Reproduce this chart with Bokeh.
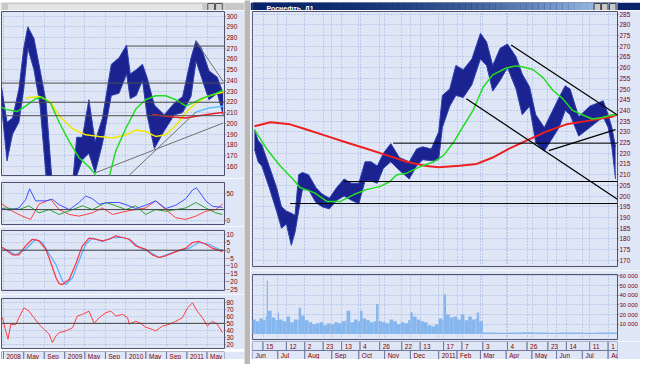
import pandas as pd
from bokeh.plotting import figure
from bokeh.layouts import row, column
from bokeh.models import Range1d, FixedTicker, Label, Span
from bokeh.embed import file_html
from bokeh.resources import INLINE

FONT = "Liberation Sans"
LBL = "#800000"
BG = "#dfe6f6"
FRAME = "#505070"
GRID = "#9db0e0"
WIN = "#b8b8b8"
NAVY = "#1a238f"

# ---------------- right window: Rosneft daily, trading-day index from 2010-06-01 ----------------
r_day = [2, 5, 8, 14, 20, 24, 28, 32, 35, 38, 41, 46, 52, 57, 63, 69, 75, 81, 87, 92,
         97, 102, 107, 113, 120, 128, 134, 139, 146, 152, 155, 161, 166, 172, 179, 186, 191, 196, 202, 208,
         215, 220, 226, 231, 238, 250, 255, 259, 266, 275, 286, 290, 293, 296]
r_hi = [231, 226, 224, 214, 204, 195, 193, 192, 191, 210, 211, 210, 204, 201, 199, 204, 208, 206, 206, 216,
        216, 214, 220, 224.5, 218, 216, 222, 223, 222, 230, 247, 250, 261, 259, 264, 276, 272, 261, 269, 271,
        265, 257, 251, 238, 232, 246, 251.5, 250, 237, 242, 244.5, 238, 232, 223]
r_lo = [222, 216, 214, 204, 193, 185, 187, 177, 183, 193, 203, 203, 197, 195, 194, 198, 200, 198, 196.5, 207,
        207, 206, 213, 216, 212, 208, 214, 217, 216.5, 217, 232, 242, 247, 246, 252, 264, 261, 249, 254, 260,
        250, 238, 242, 225, 221, 232, 240, 238, 228, 232, 237, 232, 223, 208]
r_last = 208.45

rg_day = [2, 12, 23, 34, 39, 51, 61, 72, 83, 93, 104, 112, 118, 126, 136, 148, 156, 164, 172, 180,
          188, 196, 207, 215, 221, 229, 237, 245, 253, 261, 269, 277, 285, 293, 297]
rg_val = [231, 222, 214, 207.5, 204, 201.5, 197.5, 197.5, 200.7, 203, 204.4, 206.7, 210, 210.7, 213.5, 216,
          219, 225, 232.6, 240, 250.7, 256.6, 259.8, 260.8, 260.3, 259, 255.3, 249.4, 245.5, 240, 238, 236,
          236.7, 238, 238]
rr_day = [2, 15, 31, 45, 61, 77, 94, 110, 126, 142, 152, 169, 183, 196, 209, 223, 239, 256, 272, 282, 293, 297]
rr_val = [232.6, 234.5, 233.5, 231, 228, 225, 222, 219, 216, 214, 213.5, 214.2, 215, 218, 222, 225.8, 230,
          233.5, 235, 236, 237, 238]

r_hline_from = [115, 75, 31]
r_hline_val = [224.7, 206.8, 196.5]
r_tl_x0 = [211, 174.5, 241.7]
r_tl_y0 = [270.6, 245.5, 221.2]
r_tl_x1 = [297.5, 297.5, 296]
r_tl_y1 = [237.9, 198.5, 231]

vol_day = [0, 3, 6, 9, 11, 12, 13, 16, 19, 21, 22, 25, 28, 31, 34, 37, 38, 40, 43, 46,
           49, 52, 55, 58, 61, 64, 67, 70, 73, 76, 77, 80, 83, 86, 88, 90, 93, 96, 99, 101,
           103, 106, 109, 112, 115, 118, 121, 124, 127, 129, 131, 134, 137, 140, 143, 146, 149, 152, 155, 156,
           158, 161, 164, 167, 170, 173, 176, 179, 182, 183, 185, 188, 200, 210, 220, 230, 240, 250, 260, 270,
           280, 290]
vol_k = [15, 13, 16, 14, 18, 55, 24, 17, 14, 22, 15, 13, 18, 12, 15, 14, 27, 19, 14, 12,
         10, 11, 12, 9, 11, 10, 12, 11, 13, 14, 24, 12, 15, 13, 24, 16, 14, 12, 13, 31,
         13, 12, 11, 15, 13, 10, 12, 11, 14, 22, 18, 15, 13, 12, 9, 8, 10, 16, 14, 41,
         20, 17, 18, 15, 20, 14, 18, 15, 16, 22, 13, 1.4, 1.3, 1.5, 1.8, 1.4, 1.3, 1.4, 1.5, 1.3,
         1.4, 1.5]
vol_last = "1 763"

r_day_ticks = ["2010-06-15", "2010-07-12", "2010-08-02", "2010-08-23", "2010-09-13", "2010-10-04",
               "2010-10-26", "2010-11-22", "2010-12-13", "2011-01-17", "2011-02-07", "2011-03-03",
               "2011-04-04", "2011-04-26", "2011-05-23", "2011-06-14", "2011-07-11", "2011-08-01"]
r_day_labels = ["15", "12", "2", "23", "13", "4", "26", "22", "13", "17", "7", "3", "4", "26", "23", "14", "11", "1"]
r_month_ticks = ["2010-06-01", "2010-07-01", "2010-08-02", "2010-09-01", "2010-10-01", "2010-11-01",
                 "2010-12-01", "2011-01-11", "2011-02-01", "2011-03-01", "2011-04-01", "2011-05-03",
                 "2011-06-01", "2011-07-01", "2011-08-01"]
r_month_labels = ["Jun", "Jul", "Aug", "Sep", "Oct", "Nov", "Dec", "2011", "Feb", "Mar", "Apr", "May",
                  "Jun", "Jul", "Aug"]
r_yticks = list(range(170, 290, 5))
vol_ticks = [10, 20, 30, 40, 50, 60]
vol_tick_labels = ["10 000", "20 000", "30 000", "40 000", "50 000", "60 000"]

holidays = ["2010-06-14", "2010-11-04", "2011-01-03", "2011-01-04", "2011-01-05", "2011-01-06",
            "2011-01-07", "2011-01-10", "2011-02-23", "2011-03-07", "2011-03-08", "2011-05-02",
            "2011-05-09", "2011-06-13"]

# ---------------- left window: long history ----------------
l_date = ["2007-11-16", "2007-12-16", "2008-01-22", "2008-02-24", "2008-04-02", "2008-05-01", "2008-05-25",
          "2008-07-01", "2008-08-06", "2008-09-11", "2008-10-15", "2008-11-20", "2008-12-20", "2009-01-25",
          "2009-02-20", "2009-03-13", "2009-04-16", "2009-05-25", "2009-07-01", "2009-08-14", "2009-10-06",
          "2009-11-21", "2010-01-05", "2010-01-27", "2010-03-04", "2010-04-10", "2010-05-07", "2010-06-20",
          "2010-08-18", "2010-10-18", "2010-12-06", "2011-01-25", "2011-02-24", "2011-03-28", "2011-05-12",
          "2011-07-01", "2011-08-05"]
l_hi = [228, 238, 201, 205, 232, 270, 290, 279, 250, 220, 150, 130, 120, 125, 150, 187, 187, 222, 183, 205,
        255, 261, 273, 246, 250, 255, 243, 217, 208, 219, 225, 261, 277, 270, 249, 243, 228]
l_lo = [208, 223, 165, 190, 201, 232, 270, 250, 217, 151, 110, 95, 90, 95, 115, 151, 166, 172, 154, 181,
        226, 228, 246, 223, 226, 240, 208, 176.5, 193, 208, 210, 225, 258, 243, 222, 228, 208]

lg_date = ["2007-11-06", "2008-01-14", "2008-03-23", "2008-05-12", "2008-07-11", "2008-08-20", "2008-10-09",
           "2008-11-28", "2009-01-28", "2009-03-27", "2009-05-25", "2009-07-04", "2009-08-15", "2009-09-23",
           "2009-11-02", "2010-01-01", "2010-03-01", "2010-04-29", "2010-06-28", "2010-08-27", "2010-10-26",
           "2010-12-25", "2011-02-04", "2011-04-04", "2011-06-02", "2011-08-05"]
lg_val = [219, 213, 211, 216, 223, 224.5, 218.5, 201, 183, 168, 159.5, 152, 140, 150, 174.6, 195.4, 213.3,
          222, 225.7, 225.7, 222, 216, 219, 223.5, 226.5, 231]
ly_date = ["2008-05-12", "2008-08-01", "2008-10-09", "2008-11-28", "2009-02-17", "2009-05-06", "2009-07-24",
           "2009-10-13", "2010-01-01", "2010-03-01", "2010-04-29", "2010-06-28", "2010-08-27", "2010-10-26",
           "2010-12-25", "2011-02-24", "2011-04-23", "2011-06-22", "2011-08-05"]
ly_val = [223.5, 225, 220, 207, 195, 189.3, 187.8, 186.3, 189.3, 193.7, 192.3, 187.8, 189.3, 198, 210, 219,
          224.5, 227.5, 229]
lr_date = ["2010-06-09", "2010-10-06", "2010-12-25", "2011-03-14", "2011-06-02", "2011-08-05"]
lr_val = [208.2, 206, 205, 207, 209, 210]

l_hlines = [237.5, 219.6, 207.1]
l_top_from, l_top_val = "2010-01-07", 272
l_gray_x0 = ["2009-07-04", "2010-01-21", "2011-02-24"]
l_gray_y0 = [154, 151.7, 276.2]
l_gray_x1 = ["2011-08-05", "2011-02-24", "2011-08-05"]
l_gray_y1 = [200.3, 210.6, 239]
l_cyan_x = ["2011-02-24", "2011-05-12", "2011-08-05"]
l_cyan_y = [210.6, 214.3, 216]

adx_date = ["2007-11-06", "2007-12-26", "2008-02-03", "2008-04-02", "2008-05-12", "2008-06-05", "2008-07-11",
            "2008-09-10", "2008-10-19", "2008-11-28", "2009-01-28", "2009-03-27", "2009-05-06", "2009-06-15",
            "2009-07-25", "2009-09-23", "2009-11-22", "2010-01-01", "2010-03-01", "2010-04-29", "2010-06-28",
            "2010-08-27", "2010-10-26", "2010-12-25", "2011-02-03", "2011-02-27", "2011-04-23", "2011-06-02",
            "2011-08-01"]
adx_val = [25, 22, 19, 23, 38, 58, 36, 36, 39, 29, 20, 33, 45, 40, 30, 33, 33, 29, 22, 28, 36, 22, 28, 40,
           56, 60, 36, 26, 24]
dim_date = ["2007-11-06", "2007-12-26", "2008-02-23", "2008-04-22", "2008-06-11", "2008-07-31", "2008-10-09",
            "2008-11-28", "2009-01-28", "2009-03-27", "2009-06-15", "2009-08-14", "2009-10-13", "2010-01-01",
            "2010-03-01", "2010-04-29", "2010-06-28", "2010-08-27", "2010-10-26", "2010-12-25", "2011-02-23",
            "2011-04-23", "2011-06-22", "2011-08-01"]
dim_val = [14, 30, 17, 8, 2, 30, 39, 20, 11, 8, 14, 23, 11, 17, 20, 23, 36, 20, 5, 2, 8, 17, 20, 30]
dip_date = ["2007-11-06", "2008-01-14", "2008-04-02", "2008-06-01", "2008-07-31", "2008-09-30", "2008-11-28",
            "2009-02-17", "2009-04-16", "2009-06-15", "2009-09-03", "2009-11-02", "2010-01-01", "2010-03-01",
            "2010-04-29", "2010-06-28", "2010-08-27", "2010-10-26", "2010-12-25", "2011-02-23", "2011-04-23",
            "2011-06-22", "2011-08-01"]
dip_val = [20, 23, 20, 27, 14, 20, 11, 20, 27, 20, 33, 27, 20, 27, 11, 20, 17, 20, 23, 33, 23, 14, 11]

macd_date = ["2007-11-06", "2007-12-26", "2008-02-23", "2008-04-02", "2008-05-12", "2008-06-21", "2008-07-31",
             "2008-09-10", "2008-10-09", "2008-11-09", "2008-11-28", "2008-12-18", "2009-01-28", "2009-03-07",
             "2009-04-16", "2009-05-26", "2009-07-05", "2009-08-14", "2009-09-23", "2009-11-02", "2009-12-12",
             "2010-01-21", "2010-03-01", "2010-04-29", "2010-06-08", "2010-07-18", "2010-08-27", "2010-10-26",
             "2010-12-25", "2011-02-03", "2011-03-13", "2011-04-23", "2011-06-02", "2011-08-01"]
macd_val = [0, 1.7, -3, -3, 2.8, 7, 6, 0.6, -7.9, -17.5, -21.4, -22, -18.6, -9, 2.8, 7.7, 7, 6, 7, 9.2, 8.1,
            7, 2.8, 0.6, -3, -4.7, -3.6, -0.9, 1.3, 4.9, 5.6, 3.8, 1.3, -0.9]
sig_date = ["2007-11-06", "2008-01-14", "2008-03-13", "2008-05-12", "2008-07-11", "2008-08-20", "2008-09-30",
            "2008-11-09", "2008-12-18", "2009-01-08", "2009-02-17", "2009-03-27", "2009-05-06", "2009-06-15",
            "2009-08-14", "2009-10-13", "2009-12-12", "2010-01-21", "2010-03-21", "2010-05-19", "2010-07-18",
            "2010-09-16", "2010-11-15", "2011-01-14", "2011-03-13", "2011-05-12", "2011-07-11", "2011-08-01"]
sig_val = [0.6, 0.6, -3, 0.6, 7, 4.9, -2.4, -9.2, -19.6, -22, -17.5, -6.8, 3.8, 7.7, 5.6, 8.1, 8.1, 7, 1.7,
           -0.9, -4.7, -2.4, -0.3, 1.3, 4.9, 3.8, 0.6, 0]

rsi_date = ["2007-11-06", "2007-12-06", "2007-12-26", "2008-01-14", "2008-01-28", "2008-02-13", "2008-03-13",
            "2008-04-02", "2008-05-02", "2008-06-01", "2008-07-01", "2008-07-31", "2008-08-30", "2008-09-30",
            "2008-10-19", "2008-11-09", "2008-11-28", "2009-01-08", "2009-02-17", "2009-03-17", "2009-04-16",
            "2009-05-26", "2009-06-25", "2009-07-25", "2009-09-03", "2009-10-03", "2009-11-02", "2009-12-12",
            "2010-01-11", "2010-01-21", "2010-03-01", "2010-03-31", "2010-04-29", "2010-06-08", "2010-06-28",
            "2010-08-07", "2010-09-16", "2010-10-26", "2010-12-05", "2011-01-04", "2011-02-03", "2011-03-03",
            "2011-04-03", "2011-05-03", "2011-06-02", "2011-07-01", "2011-08-01"]
rsi_val = [50, 62.7, 58, 39.3, 27.5, 48.6, 48, 58, 72, 67.3, 58, 48.6, 41.5, 34.5, 22.8, 32.1, 36.8, 39.3,
           43.8, 60.4, 62.7, 67.3, 50, 58, 65, 67.3, 60.4, 62.7, 58, 49, 53, 50, 44.6, 41.5, 39.3, 46.1, 48.6,
           53, 58, 72, 79, 67.3, 58, 46.1, 53, 48.6, 36.8]

l_cell_dates = ["2008-01-01", "2008-05-01", "2008-09-01", "2009-01-01", "2009-05-01", "2009-09-01",
                "2010-01-01", "2010-05-01", "2010-09-01", "2011-01-01", "2011-05-01"]
l_cell_labels = ["2008", "May", "Sep", "2009", "May", "Sep", "2010", "May", "Sep", "2011", "May"]
l_yticks = list(range(160, 310, 10))
l_last = 208.45

TITLE_RIGHT = "Роснефть, Д1"

# ---------------- helpers ----------------
def ms(s):
    return pd.Timestamp(s).value / 1e6

def msl(lst):
    return [ms(s) for s in lst]

cal = pd.bdate_range("2010-06-01", "2011-08-31")
cal = cal[~cal.isin(pd.to_datetime(holidays))]
cal_pos = {d: i for i, d in enumerate(cal)}

def tix(lst):
    return [cal_pos[pd.Timestamp(s)] for s in lst]


def panel(w, h, xr, yr, borders, yticks=None, overrides=None, fsize="6.5px", xgrid=None):
    l, r, t, b = borders
    p = figure(width=w, height=h, x_range=xr, y_range=yr, output_backend="svg",
               toolbar_location=None, x_axis_location=None,
               y_axis_location="right" if yticks is not None else None,
               min_border_left=l, min_border_right=r, min_border_top=t, min_border_bottom=b,
               background_fill_color=BG, border_fill_color=BG, outline_line_color=FRAME)
    if yticks is not None:
        ax = p.yaxis[0]
        ax.ticker = FixedTicker(ticks=yticks)
        ax.major_label_text_font = FONT
        ax.major_label_text_font_size = fsize
        ax.major_label_text_color = LBL
        ax.axis_line_color = None
        ax.major_tick_line_color = FRAME
        ax.major_tick_out = 1
        ax.major_tick_in = 0
        ax.minor_tick_line_color = None
        ax.major_label_standoff = 1
        if overrides:
            ax.major_label_overrides = overrides
        p.ygrid.ticker = FixedTicker(ticks=yticks)
    if xgrid is not None:
        p.xgrid.ticker = FixedTicker(ticks=xgrid)
    p.grid.grid_line_color = GRID
    p.grid.grid_line_dash = "1 2"
    return p


def chrome(w, h, bg):
    p = figure(width=w, height=h, x_range=Range1d(0, 1), y_range=Range1d(0, 1),
               output_backend="svg", toolbar_location=None, x_axis_location=None,
               y_axis_location=None, min_border=0, background_fill_color=bg,
               border_fill_color=bg, outline_line_color=None)
    p.grid.visible = False
    return p


def price_label(p, x, y):
    p.add_layout(Label(x=x, y=y, text=f"{y:.2f}", x_offset=1, text_baseline="middle",
                       text_font=FONT, text_font_size="6.5px", text_color="#000080",
                       background_fill_color="white", border_line_color="#3050c0"))


def price_band(p, x, lo, hi):
    p.varea(x=x, y1=lo, y2=hi, fill_color=NAVY)
    p.line(x, hi, line_color="#3040b0", line_width=1)
    p.line(x, lo, line_color="#3040b0", line_width=1)


# ---------------- right window ----------------
RW = 390
RB = (2, 21)
rx = Range1d(0.4, 297.6)
r_day_pos = tix(r_day_ticks)
r_mon_pos = tix(r_month_ticks)
r_vgrid = sorted(set(r_day_pos + r_mon_pos))

rmain = panel(RW, 260, rx, Range1d(167.1, 286.2), (RB[0], RB[1], 1, 4), yticks=r_yticks, xgrid=r_vgrid)
price_band(rmain, r_day, r_lo, r_hi)
rmain.line(rr_day, rr_val, line_color="#ee2020", line_width=2)
rmain.line(rg_day, rg_val, line_color="#22dd22", line_width=1.5)
rmain.segment(x0=r_hline_from, y0=r_hline_val, x1=[rx.end] * len(r_hline_val), y1=r_hline_val,
              line_color="#000000", line_width=1)
rmain.segment(x0=r_tl_x0, y0=r_tl_y0, x1=r_tl_x1, y1=r_tl_y1, line_color="#000000", line_width=1.2)
price_label(rmain, rx.end, r_last)

rvol = panel(RW, 71, rx, Range1d(-5.8, 61.4), (RB[0], RB[1], 4, 2), yticks=vol_ticks,
             overrides={t: s for t, s in zip(vol_ticks, vol_tick_labels)}, fsize="6px", xgrid=r_vgrid)
vol_right = vol_day[1:] + [rx.end]
rvol.quad(left=vol_day, right=vol_right, bottom=0, top=vol_k, fill_color="#86b6ee", line_color=None)
rvol.add_layout(Label(x=rx.end, y=vol_k[-1], text=vol_last, x_offset=1, text_baseline="middle",
                      text_font=FONT, text_font_size="6px", text_color="#2050c0",
                      background_fill_color="white", border_line_color="#3060d0"))

rdates = panel(RW, 18, rx, Range1d(0, 2), (RB[0], RB[1], 0, 0))
rdates.grid.visible = False
rdates.outline_line_color = None
d_left = [rx.start] + r_day_pos
d_right = r_day_pos + [rx.end]
rdates.quad(left=d_left, right=d_right, bottom=1, top=2, fill_color=BG, line_color="#7078a0")
rdates.text(x=r_day_pos, y=[1.5] * len(r_day_pos), text=r_day_labels, x_offset=3, text_baseline="middle",
            text_font_size="6.5px", text_color=LBL, text_font={"value": FONT})
m_left = [max(v, rx.start) for v in r_mon_pos]
m_right = r_mon_pos[1:] + [rx.end]
rdates.quad(left=m_left, right=m_right, bottom=0, top=1, fill_color=BG, line_color="#7078a0")
rdates.text(x=m_left, y=[0.5] * len(m_left), text=r_month_labels, x_offset=3, text_baseline="middle",
            text_font_size="6.5px", text_color=LBL, text_font={"value": FONT})

rtitle = chrome(RW, 10, "#0a246a")
n = 60
c0 = (10, 36, 106)
c1 = (166, 202, 240)
cols = ["#%02x%02x%02x" % tuple(int(c0[k] + (c1[k] - c0[k]) * (i / (n - 1)) ** 2) for k in range(3))
        for i in range(n)]
rtitle.quad(left=[i / n for i in range(n)], right=[(i + 1) / n for i in range(n)], bottom=0, top=1,
            fill_color=cols, line_color=None)
rtitle.quad(left=[0.936, 0.956, 0.978], right=[0.954, 0.974, 0.996], bottom=0.15, top=0.9,
            fill_color="#c8c8c8", line_color="#404040")
rtitle.add_layout(Label(x=14, y=1, x_units="screen", y_units="screen", text=TITLE_RIGHT,
                        text_color="white", text_font=FONT, text_font_size="7px", text_font_style="bold"))

rscroll = chrome(RW, 5, "#cfcfcf")
rscroll.quad(left=[0.79], right=[0.985], bottom=0, top=1, fill_color="#ececec", line_color="#909090")

right_col = column(rtitle, rmain, rvol, rdates, rscroll, spacing=0)

# ---------------- left window ----------------
LW = 244
LB = (1, 20)
lx = Range1d(ms("2007-12-20"), ms("2011-08-13"))
l_cells = msl(l_cell_dates)

lmain = panel(LW, 168, lx, Range1d(151.4, 304.2), (LB[0], LB[1], 1, 3), yticks=l_yticks, xgrid=l_cells)
lx_d = msl(l_date)
price_band(lmain, lx_d, l_lo, l_hi)
for v in l_hlines:
    lmain.add_layout(Span(location=v, dimension="width", line_color="#505050", line_width=1))
lmain.segment(x0=[ms(l_top_from)], y0=[l_top_val], x1=[lx.end], y1=[l_top_val], line_color="#505050")
lmain.segment(x0=msl(l_gray_x0), y0=l_gray_y0, x1=msl(l_gray_x1), y1=l_gray_y1, line_color="#707070")
lmain.line(msl(l_cyan_x), l_cyan_y, line_color="#60c0ff", line_width=1.5)
lmain.line(msl(ly_date), ly_val, line_color="#f0e800", line_width=1.5)
lmain.line(msl(lr_date), lr_val, line_color="#ee2020", line_width=1.5)
lmain.line(msl(lg_date), lg_val, line_color="#22dd22", line_width=1.5)
price_label(lmain, lx.end, l_last)

lp2 = panel(LW, 48, lx, Range1d(-7.4, 69.8), (LB[0], LB[1], 4, 2), yticks=[0, 50], xgrid=l_cells)
lp2.add_layout(Span(location=20, dimension="width", line_color="#404040", line_width=1))
lp2.line(msl(dim_date), dim_val, line_color="#ff4040", line_width=1)
lp2.line(msl(dip_date), dip_val, line_color="#30a030", line_width=1)
lp2.line(msl(adx_date), adx_val, line_color="#4050ff", line_width=1)

lp3 = panel(LW, 68, lx, Range1d(-25.8, 12.6), (LB[0], LB[1], 4, 4), yticks=list(range(-25, 15, 5)),
            xgrid=l_cells)
lp3.add_layout(Span(location=0, dimension="width", line_color="#404040", line_width=1))
lp3.line(msl(sig_date), sig_val, line_color="#50b0ff", line_width=1.2)
lp3.line(msl(macd_date), macd_val, line_color="#ff3040", line_width=1.2)

lp4 = panel(LW, 55, lx, Range1d(14.4, 85.2), (LB[0], LB[1], 4, 1), yticks=list(range(20, 90, 10)),
            xgrid=l_cells)
lp4.add_layout(Span(location=50, dimension="width", line_color="#404040", line_width=1))
lp4.line(msl(rsi_date), rsi_val, line_color="#ff4040", line_width=1)

ldates = panel(LW, 10, lx, Range1d(0, 1), (LB[0], LB[1], 0, 0))
ldates.grid.visible = False
ldates.outline_line_color = None
c_left = [lx.start] + l_cells
c_right = l_cells + [lx.end]
ldates.quad(left=c_left, right=c_right, bottom=0, top=1, fill_color=BG, line_color="#7078a0")
ldates.text(x=l_cells, y=[0.5] * len(l_cells), text=l_cell_labels, x_offset=3, text_baseline="middle",
            text_font_size="6.5px", text_color=LBL, text_font={"value": FONT})

ltitle = chrome(LW, 10, "#c8c8c8")
ltitle.quad(left=[0.03], right=[0.9], bottom=0.2, top=0.85, fill_color="#e4e4e4", line_color=None)
ltitle.quad(left=[0.925, 0.96], right=[0.955, 0.99], bottom=0.15, top=0.9, fill_color="#d0d0d0",
            line_color="#505050")

lscroll = chrome(LW, 5, "#cfcfcf")
lscroll.quad(left=[0.03], right=[0.3], bottom=0, top=1, fill_color="#ececec", line_color="#909090")

left_col = column(ltitle, lmain, lp2, lp3, lp4, ldates, lscroll, spacing=0)

gap = chrome(6, 364, WIN)

layout = row(left_col, gap, right_col, spacing=0)

open("out.html", "w").write(file_html(layout, INLINE))
